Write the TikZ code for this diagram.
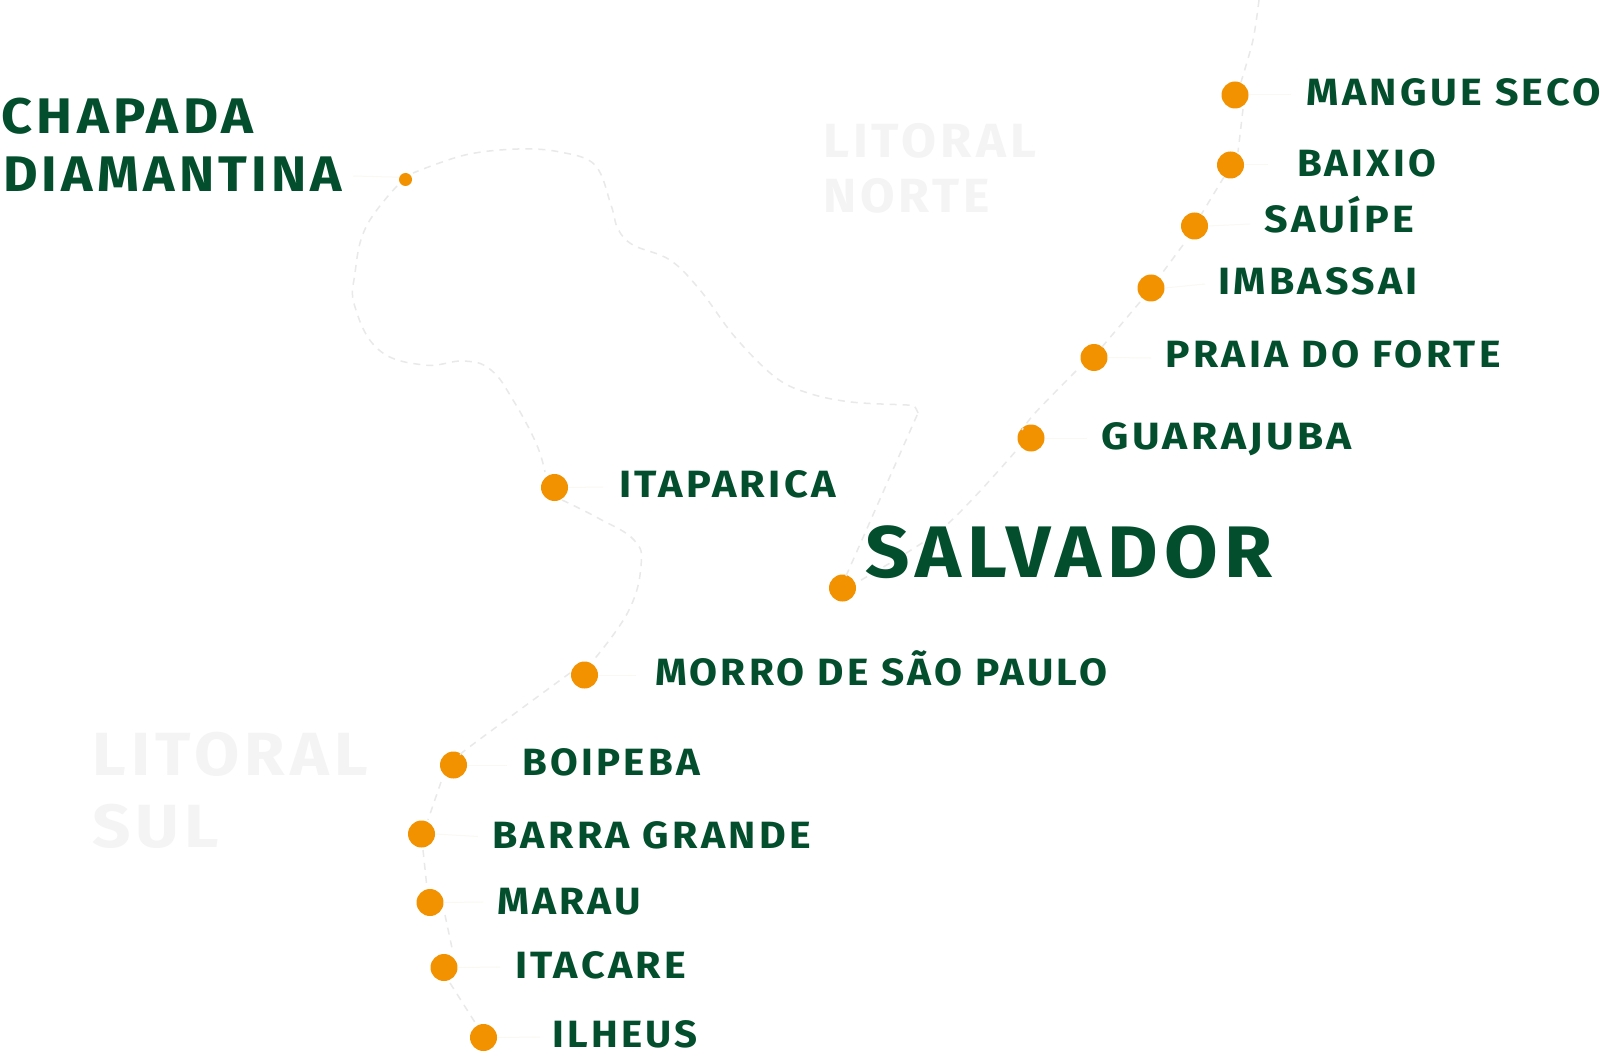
\documentclass[tikz,border=0pt]{standalone}
\usepackage{fontspec}
\usepackage{graphicx}
\setmainfont{Fira Sans}[LetterSpace=8]
\definecolor{pin}{HTML}{F39200}
\definecolor{ink}{HTML}{034E2D}
\definecolor{ghost}{HTML}{F4F4F4}
\definecolor{routeline}{HTML}{E9E9E9}
\definecolor{leader}{HTML}{FAF8F1}
\newsavebox{\lblbox}
\newcommand{\fitted}[3]{\sbox{\lblbox}{\fontsize{#2}{#2}\selectfont\bfseries #3\kern-0.08em}\pgfmathsetmacro{\xfac}{#1/\the\wd\lblbox*1pt}\scalebox{\xfac}[1]{\usebox{\lblbox}}}
\tikzset{
  x=1pt,y=-1pt,
  stop/.style={circle,fill=pin,draw=none,inner sep=0,minimum size=27pt},
  smallstop/.style={circle,fill=pin,draw=none,inner sep=0,minimum size=13pt},
  route/.style={draw=routeline,line width=1.5pt,dash pattern=on 7pt off 6pt},
  leaderline/.style={draw=leader,line width=1pt},
  place/.style={anchor=base west,inner sep=0,outer sep=0,text=ink},
  region/.style={anchor=base west,inner sep=0,outer sep=0,text=ghost}
}
\begin{document}
\begin{tikzpicture}
\useasboundingbox (0,0) rectangle (1600,1056);
\fill[white] (0,0) rectangle (1600,1056);
% free coordinates
\coordinate (topend) at (1259,0);
\coordinate (lchapada) at (353,176);
% leader ends
\coordinate (lmangue) at (1291,95);
\coordinate (lbaixio) at (1268,165);
\coordinate (lsauipe) at (1250,224);
\coordinate (limbassai) at (1205,284);
\coordinate (lpraia) at (1151,358);
\coordinate (lguara) at (1087,438);
\coordinate (litap) at (603,487);
\coordinate (lmorro) at (636,675);
\coordinate (lboipeba) at (507,765);
\coordinate (lbarra) at (478,836.5);
\coordinate (lmarau) at (483,902);
\coordinate (litacare) at (500,967);
\coordinate (lilheus) at (540,1037);
% stops
\node[stop] (mangue) at (1235,95) {};
\node[stop] (baixio) at (1230.5,165) {};
\node[stop] (sauipe) at (1194.5,226) {};
\node[stop] (imbassai) at (1151,288) {};
\node[stop] (praia) at (1094,357.5) {};
\node[stop] (guarajuba) at (1031,438) {};
\node[stop] (salvador) at (842.5,588) {};
\node[smallstop] (chapada) at (405.5,179.5) {};
\node[stop] (itaparica) at (554.5,487.5) {};
\node[stop] (morro) at (584.5,675) {};
\node[stop] (boipeba) at (453.5,765) {};
\node[stop] (barra) at (421.5,834) {};
\node[stop] (marau) at (430,902.5) {};
\node[stop] (itacare) at (444,967.5) {};
\node[stop] (ilheus) at (483.5,1037.5) {};
% routes
\draw[route] plot[smooth] coordinates {(topend) (1253,40) (1241,82)};
\draw[route] plot[smooth] coordinates {(1243,109) (1238,152)};
\draw[route] plot[smooth] coordinates {(1224,177) (1201.5,214)};
\draw[route] plot[smooth] coordinates {(1183,245) (1160,276)};
\draw[route] plot[smooth] coordinates {(1140,302) (1102,347)};
\draw[route] plot[smooth] coordinates {(1076,371) (1035,413) (1022,430)};
\draw[route] plot[smooth] coordinates {(1015,452) (943,528) (856,583)};
\draw[route] plot[smooth] coordinates {(846,576) (918,413)};
\draw[route] plot[smooth,tension=0.6] coordinates {(918,413) (914,406) (907,405) (851,402) (808,393) (775,377) (735,337) (700,290) (670,260) (633,245) (618,229) (611,205) (595,165) (560,152) (518,149) (465,155) (413,173)};
\draw[route] plot[smooth,tension=0.7] coordinates {(397,186) (366,227) (355,273) (355,307) (379,350) (424,365) (464,361) (491,370) (513,400) (536,443) (545,472)};
\draw[route] plot[smooth,tension=0.7] coordinates {(562,500) (598,518) (634,540) (641,566) (628,612) (592,662)};
\draw[route] plot[smooth] coordinates {(570,673) (468,748) (462,755)};
\draw[route] plot[smooth] coordinates {(441,782) (428,820)};
\draw[route] plot[smooth] coordinates {(423,850) (427,888)};
\draw[route] plot[smooth] coordinates {(445,915) (452,948)};
\draw[route] plot[smooth] coordinates {(450,983) (476,1024)};
% leaders
\draw[leaderline] (chapada.160) -- (lchapada);
\draw[leaderline] (mangue.east) -- (lmangue);
\draw[leaderline] (baixio.east) -- (lbaixio);
\draw[leaderline] (sauipe.east) -- (lsauipe);
\draw[leaderline] (imbassai.east) -- (limbassai);
\draw[leaderline] (praia.east) -- (lpraia);
\draw[leaderline] (guarajuba.east) -- (lguara);
\draw[leaderline] (itaparica.east) -- (litap);
\draw[leaderline] (morro.east) -- (lmorro);
\draw[leaderline] (boipeba.east) -- (lboipeba);
\draw[leaderline] (barra.east) -- (lbarra);
\draw[leaderline] (marau.east) -- (lmarau);
\draw[leaderline] (itacare.east) -- (litacare);
\draw[leaderline] (ilheus.east) -- (lilheus);
% labels
\node[place] (tmangue) at (1306.5,106) {\fitted{291}{38}{MANGUE SECO}};
\node[place] (tbaixio) at (1297,176.5) {\fitted{136}{38}{BAIXIO}};
\node[place] (tsauipe) at (1264.5,232.5) {\fitted{146}{38}{SAUÍPE}};
\node[place] (timbassai) at (1218.5,295) {\fitted{196}{38}{IMBASSAI}};
\node[place] (tpraia) at (1165.5,367.5) {\fitted{332}{38}{PRAIA DO FORTE}};
\node[place] (tguara) at (1101.5,449) {\fitted{247}{38}{GUARAJUBA}};
\node[place] (tsalvador) at (865,577.5) {\fitted{401}{73}{SALVADOR}};
\node[place] (titap) at (619.5,497) {\fitted{213}{38}{ITAPARICA}};
\node[place] (tmorro) at (655,685) {\fitted{449}{38}{MORRO DE SÃO PAULO}};
\node[place] (tboipeba) at (522.5,775) {\fitted{174}{38}{BOIPEBA}};
\node[place] (tbarra) at (492.5,848) {\fitted{315}{38}{BARRA GRANDE}};
\node[place] (tmarau) at (497,914) {\fitted{141}{38}{MARAU}};
\node[place] (titacare) at (515,978) {\fitted{168}{38}{ITACARE}};
\node[place] (tilheus) at (552.5,1047) {\fitted{142}{38}{ILHEUS}};
\node[place] (tchap) at (1.5,134) {\fitted{248}{50}{CHAPADA}};
\node[place] (tdiam) at (3,192) {\fitted{335}{50}{DIAMANTINA}};
\node[region] (rnorte1) at (823,158) {\fitted{209}{48}{LITORAL}};
\node[region] (rnorte2) at (823,213) {\fitted{163}{48}{NORTE}};
\node[region] (rsul1) at (92.5,775) {\fitted{270}{61}{LITORAL}};
\node[region] (rsul2) at (92,847) {\fitted{122}{61}{SUL}};
\end{tikzpicture}
\end{document}
